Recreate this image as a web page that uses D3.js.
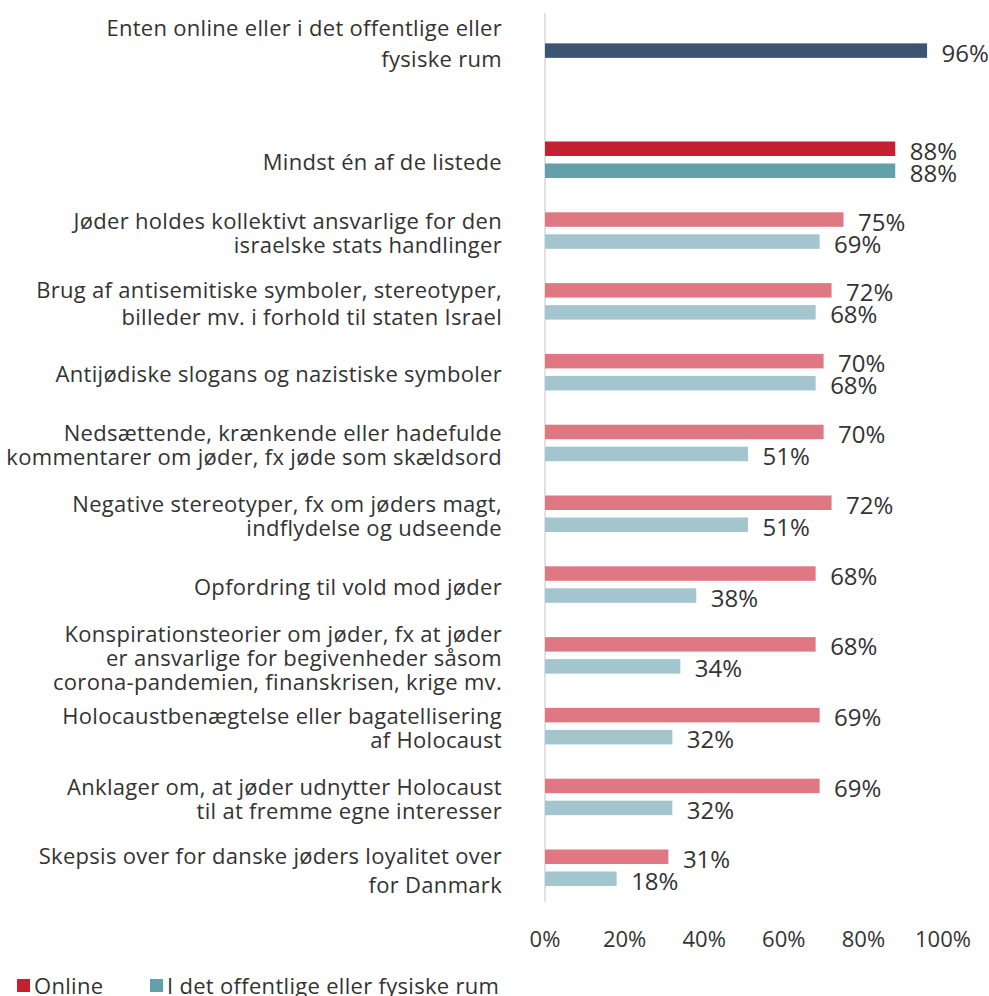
<!DOCTYPE html>
<html>
<head>
<meta charset="utf-8">
<script src="https://cdn.jsdelivr.net/npm/d3@7"></script>
<style>
  html, body { margin: 0; padding: 0; background: #fff; }
  svg { display: block; font-family: "Open Sans", "Lato", sans-serif; }
</style>
</head>
<body>
<svg id="chart" width="989" height="996"></svg>
<script>
const categories = [
  "Enten online eller i det offentlige eller|fysiske rum",
  "Mindst én af de listede",
  "Jøder holdes kollektivt ansvarlige for den|israelske stats handlinger",
  "Brug af antisemitiske symboler, stereotyper,|billeder mv. i forhold til staten Israel",
  "Antijødiske slogans og nazistiske symboler",
  "Nedsættende, krænkende eller hadefulde|kommentarer om jøder, fx jøde som skældsord",
  "Negative stereotyper, fx om jøders magt,|indflydelse og udseende",
  "Opfordring til vold mod jøder",
  "Konspirationsteorier om jøder, fx at jøder|er ansvarlige for begivenheder såsom|corona-pandemien, finanskrisen, krige mv.",
  "Holocaustbenægtelse eller bagatellisering|af Holocaust",
  "Anklager om, at jøder udnytter Holocaust|til at fremme egne interesser",
  "Skepsis over for danske jøders loyalitet over|for Danmark"
];
const totalValues   = [96, null, null, null, null, null, null, null, null, null, null, null];
const onlineValues  = [null, 88, 75, 72, 70, 70, 72, 68, 68, 69, 69, 31];
const offlineValues = [null, 88, 69, 68, 68, 51, 51, 38, 34, 32, 32, 18];
const xTicks = [0, 20, 40, 60, 80, 100];
const seriesNames = ["Online", "I det offentlige eller fysiske rum"];

// styling
const colors = {
  total: "#3d5472",
  onlineStrong: "#c4202f",
  offlineStrong: "#62a0aa",
  online: "#df7883",
  offline: "#a3c6ce",
  text: "#333333",
  axis: "#d9d9d9"
};
const lineGap = {0: 31, 3: 27, 11: 29};

const svg = d3.select("#chart");
const x = d3.scaleLinear().domain([0, 100]).range([545, 943]);

const rowCats = categories.slice(1);
const y = d3.scaleBand().domain(rowCats).range([124.6, 903.4]).paddingInner(0).paddingOuter(0);
const rowCenter = (c, i) => i === 0 ? y.range()[0] - 74 : y(c) + y.bandwidth() / 2;

const barH = 14.5;

svg.append("line")
  .attr("x1", x(0)).attr("x2", x(0))
  .attr("y1", 13).attr("y2", 902)
  .attr("stroke", colors.axis).attr("stroke-width", 1.5);

const rows = categories.map((c, i) => ({c, i, total: totalValues[i], online: onlineValues[i], offline: offlineValues[i], cy: rowCenter(c, i)}));

function drawBar(d, v, top, color) {
  svg.append("rect")
    .attr("x", x(0)).attr("y", top)
    .attr("width", x(v) - x(0)).attr("height", barH)
    .attr("fill", color);
  svg.append("text")
    .attr("x", x(v) + 14.5).attr("y", top + barH / 2 + 1.5)
    .attr("dominant-baseline", "central")
    .attr("font-size", 24).attr("fill", colors.text)
    .text(v + "%");
}

rows.forEach(d => {
  if (d.total != null) drawBar(d, d.total, d.cy - barH / 2, colors.total);
  if (d.online != null) drawBar(d, d.online, d.cy - 18.5, d.i === 1 ? colors.onlineStrong : colors.online);
  if (d.offline != null) drawBar(d, d.offline, d.cy + 3.5, d.i === 1 ? colors.offlineStrong : colors.offline);

  const lines = d.c.split("|");
  const gap = lineGap[d.i] || 24;
  const center = d.cy + (d.i === 0 ? -8 : 1);
  const t = svg.append("text")
    .attr("text-anchor", "end")
    .attr("font-size", 22).attr("letter-spacing", 0.3).attr("fill", colors.text);
  lines.forEach((ln, k) => {
    t.append("tspan")
      .attr("x", 502)
      .attr("y", center + (k - (lines.length - 1) / 2) * gap)
      .attr("dominant-baseline", "central")
      .text(ln);
  });
});

svg.selectAll(".xt").data(xTicks).enter().append("text")
  .attr("x", d => x(d)).attr("y", 938)
  .attr("text-anchor", "middle").attr("dominant-baseline", "central")
  .attr("font-size", 22).attr("fill", colors.text)
  .text(d => d + "%");

const legend = [
  {name: seriesNames[0], color: colors.onlineStrong, x: 17},
  {name: seriesNames[1], color: colors.offlineStrong, x: 150}
];
legend.forEach(l => {
  svg.append("rect").attr("x", l.x).attr("y", 979).attr("width", 13).attr("height", 13).attr("fill", l.color);
  svg.append("text").attr("x", l.x + 17).attr("y", 985)
    .attr("dominant-baseline", "central")
    .attr("font-size", 22).attr("letter-spacing", 0.3).attr("fill", colors.text).text(l.name);
});
</script>
</body>
</html>
